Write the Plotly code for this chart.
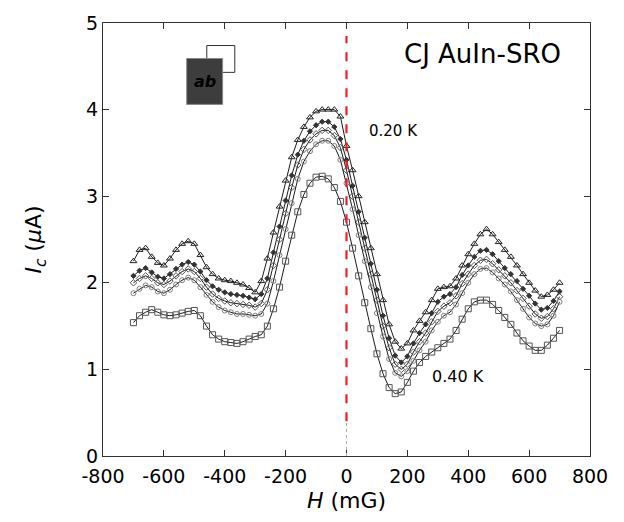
import plotly.graph_objects as go

H = list(range(-700, 701, 20))

ic_020K = [2.25, 2.38, 2.40, 2.30, 2.23, 2.20, 2.28, 2.38, 2.45, 2.48, 2.45, 2.32, 2.18, 2.10, 2.05, 2.03, 2.02, 2.00, 1.98, 1.94, 1.89,
           2.02, 2.28, 2.58, 2.88, 3.18, 3.45, 3.65, 3.80, 3.91, 3.98, 4.00, 4.00, 4.00, 3.92, 3.58,
           3.30, 3.00, 2.70, 2.40, 2.10, 1.80, 1.52, 1.32, 1.24, 1.30, 1.45, 1.56, 1.66, 1.80, 1.93, 1.95, 1.96, 2.05, 2.20,
           2.33, 2.45, 2.56, 2.62, 2.56, 2.47, 2.38, 2.30, 2.20, 2.10, 2.00, 1.91, 1.84, 1.86, 1.92, 2.00]

ic_025K = [2.08, 2.14, 2.17, 2.12, 2.07, 2.05, 2.10, 2.16, 2.21, 2.24, 2.21, 2.13, 2.03, 1.96, 1.92, 1.89, 1.87, 1.86, 1.85, 1.83, 1.81,
           1.87, 2.05, 2.35, 2.65, 2.95, 3.24, 3.48, 3.64, 3.75, 3.82, 3.86, 3.86, 3.80, 3.66, 3.42,
           3.12, 2.82, 2.52, 2.22, 1.92, 1.62, 1.36, 1.16, 1.08, 1.15, 1.30, 1.42, 1.52, 1.65, 1.78, 1.84, 1.87, 1.95, 2.09,
           2.20, 2.30, 2.37, 2.38, 2.33, 2.25, 2.17, 2.10, 2.02, 1.93, 1.85, 1.76, 1.69, 1.71, 1.79, 1.90]

ic_030K = [2.00, 2.05, 2.08, 2.05, 2.00, 1.98, 2.02, 2.08, 2.13, 2.16, 2.13, 2.05, 1.95, 1.87, 1.82, 1.79, 1.77, 1.76, 1.75, 1.74, 1.72,
           1.76, 1.92, 2.20, 2.50, 2.80, 3.10, 3.36, 3.54, 3.65, 3.72, 3.76, 3.76, 3.70, 3.56, 3.30,
           3.00, 2.70, 2.40, 2.10, 1.80, 1.50, 1.25, 1.06, 1.00, 1.06, 1.20, 1.32, 1.42, 1.55, 1.67, 1.73, 1.77, 1.85, 1.99,
           2.10, 2.20, 2.26, 2.27, 2.22, 2.15, 2.08, 2.00, 1.91, 1.82, 1.73, 1.64, 1.59, 1.61, 1.70, 1.84]

ic_035K = [1.88, 1.93, 1.97, 1.95, 1.90, 1.88, 1.92, 1.98, 2.03, 2.06, 2.03, 1.95, 1.86, 1.78, 1.72, 1.68, 1.66, 1.64, 1.64, 1.63, 1.62,
           1.64, 1.76, 2.02, 2.32, 2.62, 2.92, 3.20, 3.40, 3.52, 3.60, 3.64, 3.64, 3.58, 3.42, 3.15,
           2.85, 2.55, 2.25, 1.95, 1.65, 1.38, 1.12, 0.96, 0.92, 0.98, 1.10, 1.22, 1.32, 1.45, 1.55, 1.62, 1.66, 1.75, 1.88,
           2.00, 2.10, 2.16, 2.17, 2.12, 2.05, 1.98, 1.90, 1.80, 1.70, 1.60, 1.53, 1.50, 1.52, 1.62, 1.78]

ic_040K = [1.54, 1.62, 1.66, 1.69, 1.66, 1.63, 1.62, 1.63, 1.65, 1.67, 1.68, 1.62, 1.50, 1.40, 1.35, 1.32, 1.31, 1.30, 1.32, 1.35, 1.38,
           1.40, 1.50, 1.70, 1.95, 2.25, 2.55, 2.82, 3.02, 3.15, 3.22, 3.23, 3.20, 3.10, 2.94, 2.70,
           2.40, 2.08, 1.77, 1.47, 1.18, 0.95, 0.79, 0.72, 0.74, 0.85, 0.98, 1.08, 1.15, 1.20, 1.25, 1.30, 1.35, 1.45, 1.58,
           1.70, 1.78, 1.80, 1.80, 1.75, 1.68, 1.60, 1.52, 1.42, 1.33, 1.27, 1.22, 1.22, 1.28, 1.36, 1.45]

x_ticks = [-800, -600, -400, -200, 0, 200, 400, 600, 800]
x_tick_labels = ["-800", "-600", "-400", "-200", "0", "200", "400", "600", "800"]
y_ticks = [0, 1, 2, 3, 4, 5]

series = [
    ("0.20 K", ic_020K, "triangle-up-open", "#222222", 6),
    ("0.25 K", ic_025K, "diamond", "#333333", 4),
    ("0.30 K", ic_030K, "diamond-open", "#555555", 5),
    ("0.35 K", ic_035K, "circle-open", "#808080", 5),
    ("0.40 K", ic_040K, "square-open", "#555555", 6),
]

FONT = "DejaVu Sans, Liberation Sans, Arial, sans-serif"

fig = go.Figure()
for name, y, sym, mc, ms in series:
    fig.add_trace(go.Scatter(
        x=H, y=y, mode="lines+markers", name=name,
        line=dict(color="black", width=0.9),
        marker=dict(symbol=sym, size=ms, color=mc, line=dict(color=mc, width=1)),
        showlegend=False,
    ))

# red dashed vertical line at H = 0
fig.add_shape(type="line", x0=0, x1=0, y0=0.4, y1=4.85, xref="x", yref="y",
              line=dict(color="#e8202a", width=2.2, dash="dash"))
fig.add_shape(type="line", x0=0, x1=0, y0=0.0, y1=0.4, xref="x", yref="y",
              line=dict(color="#aaaaaa", width=1, dash="dot"))

# inset: white outlined square behind dark square labelled "ab"
fig.add_shape(type="rect", x0=-459, x1=-367, y0=4.43, y1=4.74, xref="x", yref="y",
              line=dict(color="#333333", width=1), fillcolor="white")
fig.add_shape(type="rect", x0=-525, x1=-407, y0=4.06, y1=4.59, xref="x", yref="y",
              line=dict(color="#888888", width=1), fillcolor="#3d3d3d")
fig.add_annotation(x=-466, y=4.33, xref="x", yref="y", text="<b><i>ab</i></b>", showarrow=False,
                   font=dict(family=FONT, size=16, color="black"))

fig.add_annotation(x=447, y=4.64, xref="x", yref="y", text="CJ AuIn-SRO", showarrow=False,
                   font=dict(family=FONT, size=26, color="black"))
fig.add_annotation(x=154, y=3.75, xref="x", yref="y", text="0.20 K", showarrow=False,
                   font=dict(family=FONT, size=15, color="black"))
fig.add_annotation(x=367, y=0.92, xref="x", yref="y", text="0.40 K", showarrow=False,
                   font=dict(family=FONT, size=16, color="black"))

axis_common = dict(
    showline=True, linecolor="#333333", linewidth=1, mirror="ticks",
    ticks="inside", ticklen=6, tickcolor="#333333", showgrid=False, zeroline=False,
    tickfont=dict(family=FONT, size=19, color="black"),
)

fig.update_xaxes(range=[-800, 800], tickvals=x_ticks, ticktext=x_tick_labels, ticklabelstandoff=3,
                 title=dict(text="<i>H</i> (mG)", font=dict(family=FONT, size=22, color="black"), standoff=6),
                 **axis_common)
fig.update_yaxes(range=[0, 5], tickvals=y_ticks,
                 title=dict(text="<i>I</i><sub><i>c</i></sub> (<i>μ</i>A)", font=dict(family=FONT, size=22, color="black"), standoff=38),
                 **axis_common)

fig.update_layout(
    width=624, height=522,
    margin=dict(l=103, r=34, t=21, b=66),
    paper_bgcolor="white", plot_bgcolor="white",
)

fig.write_html("out.html")
